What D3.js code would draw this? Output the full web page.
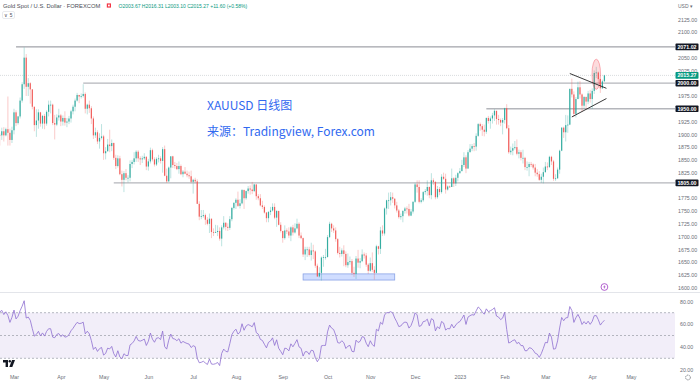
<!DOCTYPE html>
<html><head><meta charset="utf-8">
<script src="https://cdn.jsdelivr.net/npm/d3@7"></script>
<style>
body{margin:0;background:#fff;}
svg{display:block;font-family:"Liberation Sans",Arial,sans-serif;}
</style>
</head><body><svg id="c" width="700" height="382"></svg>
<script>
// ---------- DATA (daily XAUUSD) ----------
// closes before the visible window (RSI warm-up only), Jan 3 – Feb 17 2022
const warmupCloses = [1801,1814,1810,1789,1797,1802,1821,1826,1821,1817,1819,1813,1843,1839,1835,1843,1849,1819,1797,1791,1797,
  1801,1807,1805,1808,1821,1826,1833,1827,1859,1872,1854,1870,1899];
const firstDate = "2022-02-18";
const closedDays = ["2023-04-07"];
const highs = [
 1902,1913,1914,1913,1974,1911,1915,
 1950,1947,1936,1972,2002,2070,2057,2010,2002,1988,1954,1949,1949,1944,1938,1940,1947,1966,1966,1960,1938,1939,1950,
 1940,1937,1945,1932,1936,1948,1958,1970,1981,1977,1980,1998,1982,1960,1966,1955,1935,1913,1908,1902,1920,
 1899,1875,1891,1909,1890,1884,1860,1859,1858,1829,1828,1832,1820,1849,1850,1865,1869,1869,1857,1858,1863,1857,
 1852,1874,1872,1855,1855,1860,1857,1875,1878,1833,1837,1857,1858,1846,1844,1847,1841,1830,1836,1829,1827,1829,
 1813,1815,1812,1769,1752,1752,1745,1738,1745,1735,1716,1723,1722,1718,1722,1740,1728,1726,1740,1758,1767,
 1775,1788,1773,1793,1792,1790,1799,1800,1807,1803,1802,1783,1783,1770,1761,1748,1750,1758,1765,1765,1752,1751,1728,
 1711,1722,1716,1718,1720,1723,1726,1735,1728,1708,1698,1680,1680,1680,1688,1684,1673,1647,1640,1661,1664,1676,
 1703,1729,1727,1722,1718,1697,1680,1677,1683,1671,1667,1661,1656,1641,1662,1674,1658,1675,1669,1668,1648,
 1659,1669,1642,1684,1682,1719,1722,1757,1772,1786,1787,1786,1775,1768,1754,1745,1752,1758,1759,1764,1754,1769,
 1805,1810,1810,1775,1789,1793,1810,1798,1824,1814,1808,1799,1797,1822,1825,1823,1800,1800,1833,1816,1821,1826,
 1834,1850,1865,1859,1869,1881,1881,1883,1902,1922,1923,1920,1919,1933,1936,1935,1942,1949,1944,1938,1931,1932,
 1952,1959,1918,1876,1882,1887,1890,1870,1869,1870,1856,1847,1846,1846,1843,1842,1832,1828,1823,1835,
 1846,1845,1858,1858,1850,1822,1835,1870,1914,1915,1938,1937,1989,2009,1984,1973,2003,2004,1980,1975,1974,1985,1987,
 1990,2025,2032,2023,2009,2007,2016.31];
const lows = [
 1878,1889,1886,1896,1878,1878,1883,
 1900,1916,1919,1931,1962,1989,1975,1975,1960,1949,1906,1895,1911,1915,1911,1910,1917,1935,1941,1918,1890,1916,1927,
 1916,1917,1917,1914,1920,1923,1939,1945,1964,1961,1970,1972,1941,1939,1942,1920,1891,1893,1881,1872,1890,
 1850,1851,1866,1865,1867,1850,1832,1835,1820,1798,1787,1810,1806,1808,1834,1841,1846,1846,1840,1844,1850,1830,
 1829,1843,1847,1837,1838,1845,1843,1825,1818,1805,1807,1814,1834,1833,1830,1823,1820,1816,1822,1816,1813,1804,
 1784,1804,1764,1732,1734,1737,1723,1722,1707,1697,1701,1707,1701,1692,1681,1714,1712,1711,1713,1730,1753,
 1754,1758,1755,1763,1754,1772,1784,1782,1783,1787,1772,1771,1759,1754,1745,1728,1728,1742,1749,1734,1719,1722,1708,
 1688,1694,1705,1697,1691,1702,1706,1714,1697,1695,1660,1654,1660,1661,1653,1656,1639,1621,1620,1614,1641,1655,
 1659,1697,1709,1707,1690,1665,1659,1661,1642,1640,1639,1645,1625,1621,1617,1639,1638,1650,1657,1641,1627,
 1631,1631,1616,1628,1665,1666,1701,1702,1743,1754,1761,1766,1755,1747,1735,1733,1728,1745,1745,1739,1740,1745,
 1766,1786,1765,1765,1768,1782,1780,1775,1773,1801,1773,1774,1781,1784,1811,1784,1790,1795,1797,1797,1799,1808,
 1823,1828,1836,1824,1833,1866,1867,1867,1868,1895,1907,1897,1896,1901,1921,1911,1921,1926,1919,1919,1916,1900,
 1921,1910,1862,1860,1859,1870,1859,1853,1849,1843,1830,1829,1818,1836,1831,1818,1817,1809,1805,1804,
 1825,1830,1834,1840,1809,1809,1813,1823,1867,1893,1886,1903,1918,1972,1934,1933,1969,1970,1944,1950,1950,1959,1962,
 1950,1979,2010,2000,1981,1989,2003.10];
const closes = [
 1898,1906,1898,1910,1903,1889,1908,
 1943,1922,1935,1966,1998,2050,1993,2000,1988,1954,1918,1927,1943,1921,1936,1921,1944,1958,1958,1922,1919,1933,1937,
 1925,1932,1923,1925,1931,1945,1954,1966,1977,1974,1975,1979,1950,1958,1951,1931,1898,1904,1886,1893,1896,
 1863,1867,1880,1877,1883,1854,1838,1853,1822,1811,1824,1815,1815,1842,1846,1853,1866,1853,1851,1853,1856,1837,
 1847,1869,1851,1841,1852,1853,1848,1871,1819,1808,1835,1857,1840,1838,1832,1838,1822,1827,1823,1820,1818,1807,
 1811,1808,1764,1739,1740,1742,1733,1725,1735,1709,1708,1709,1711,1696,1718,1727,1719,1717,1734,1756,1766,
 1772,1760,1765,1791,1775,1789,1794,1792,1789,1802,1779,1775,1761,1758,1747,1736,1748,1751,1758,1737,1750,1723,1711,
 1697,1712,1710,1702,1718,1708,1716,1725,1702,1697,1665,1675,1675,1664,1673,1671,1643,1622,1629,1659,1660,1660,
 1699,1725,1716,1712,1695,1668,1666,1673,1666,1644,1650,1652,1629,1627,1657,1649,1652,1665,1663,1645,1633,
 1648,1635,1629,1681,1676,1712,1706,1755,1771,1771,1777,1774,1761,1751,1738,1740,1750,1755,1754,1741,1749,1768,
 1802,1797,1768,1771,1787,1789,1797,1781,1810,1807,1777,1793,1787,1817,1813,1792,1798,1797,1814,1804,1815,1824,
 1828,1840,1855,1833,1865,1872,1877,1876,1897,1920,1916,1909,1905,1932,1926,1931,1937,1946,1930,1928,1923,1928,
 1951,1912,1865,1868,1873,1875,1862,1865,1854,1854,1836,1836,1842,1841,1835,1825,1822,1811,1817,1826,
 1837,1836,1856,1847,1813,1814,1831,1868,1913,1904,1918,1919,1989,1978,1940,1969,1992,1978,1956,1973,1964,1980,1969,
 1985,2020,2021,2008,1990,2003.67,2015.27];

// horizontal levels drawn on the chart
const levelPrices = [2071.02, 2000.00, 1950.00, 1805.00];
const levelStarts = ["2022-03-02", "2022-04-18", "2023-01-19", "2022-05-09"];
// triangle trend lines [startDate, startPrice, endDate, endPrice]
const trendUpper = ["2023-03-17", 2019, "2023-04-12", 1990];
const trendLower = ["2023-03-20", 1934, "2023-04-12", 1970];
// double-bottom support box
const boxDates = ["2022-09-15", "2022-11-17"];
const boxPrices = [1615, 1627];
// highlighted spike
const ellipseDate = "2023-04-05";
const ellipsePrices = [1988, 2047];

const priceTicks = [1600,1625,1650,1675,1700,1725,1750,1775,1825,1850,1875,1900,1925,1975,2025,2050,2100,2125];
const rsiTicks = [20,40,60,80];
const rsiBands = [70,50,30];
const monthNames = ["Jan","Feb","Mar","Apr","May","Jun","Jul","Aug","Sep","Oct","Nov","Dec"];
const headerTitle = "Gold Spot / U.S. Dollar · FOREXCOM";
const headerOHLC = "O2003.67 H2016.31 L2003.10 C2015.27 +11.60 (+0.58%)";
const noteLines = ["XAUUSD 日线图", "来源：Tradingview, Forex.com"];

// ---------- trading-day calendar ----------
const fmt = d3.utcFormat("%Y-%m-%d");
const dates = [];
{
  let d = new Date(firstDate + "T00:00:00Z");
  while (dates.length < closes.length + 20) {
    const wd = d.getUTCDay();
    if (wd !== 0 && wd !== 6 && !closedDays.includes(fmt(d))) dates.push(new Date(d));
    d = new Date(d.getTime() + 864e5);
  }
}
const idxOf = s => dates.findIndex(d => fmt(d) === s);

const candles = closes.map((c, i) => {
  const o = i === 0 ? warmupCloses[warmupCloses.length - 1] : closes[i - 1];
  return {i, o, c, h: Math.max(highs[i], o, c), l: Math.min(lows[i], o, c)};
});

// RSI(14), Wilder
const allC = warmupCloses.concat(closes);
const rsiAll = [];
{
  let ag = 0, al = 0;
  for (let k = 1; k < allC.length; k++) {
    const ch = allC[k] - allC[k - 1];
    const g = Math.max(ch, 0), l = Math.max(-ch, 0);
    if (k <= 14) { ag += g / 14; al += l / 14; }
    else { ag = (ag * 13 + g) / 14; al = (al * 13 + l) / 14; }
    rsiAll[k] = k >= 14 ? 100 - 100 / (1 + ag / (al || 1e-9)) : null;
  }
}
const rsi = closes.map((c, i) => ({i, v: rsiAll[i + warmupCloses.length]}));

// ---------- layout ----------
const svg = d3.select("#c");
const plotR = 675, paneTop = 0, paneBot = 292;
const x = d3.scaleLinear().domain([idxOf("2022-03-01"), idxOf("2023-04-03")]).range([14, 592.2]);
const y = d3.scaleLinear().domain([1600, 2125]).range([287.7, 19.3]);
const yr = d3.scaleLinear().domain([20, 80]).range([369.7, 301.3]);
const upC = "#26a69a", dnC = "#ef5350";

svg.append("defs").append("clipPath").attr("id", "pc")
  .append("rect").attr("x", 0).attr("y", paneTop).attr("width", plotR).attr("height", paneBot - paneTop);
svg.append("defs").append("clipPath").attr("id", "rc")
  .append("rect").attr("x", 0).attr("y", paneBot).attr("width", plotR).attr("height", 382 - paneBot);

// pane separator
svg.append("line").attr("x1", 0).attr("x2", 700).attr("y1", paneBot + 0.5).attr("y2", paneBot + 0.5)
  .attr("stroke", "#e3e5ea").attr("stroke-width", 1);

const P = svg.append("g").attr("clip-path", "url(#pc)");

// last price line
P.append("line").attr("x1", 0).attr("x2", plotR)
  .attr("y1", y(closes[closes.length - 1])).attr("y2", y(closes[closes.length - 1]))
  .attr("stroke", "#cfd3d6").attr("stroke-width", 0.8).attr("stroke-dasharray", "1,1");

// horizontal levels
levelPrices.forEach((p, k) => {
  P.append("line").attr("x1", x(idxOf(levelStarts[k]))).attr("x2", plotR)
    .attr("y1", y(p)).attr("y2", y(p))
    .attr("stroke", k === 0 ? "#8a8d94" : "#b4b6bb").attr("stroke-width", k === 0 ? 1 : 1.3);
});

// support box
P.append("rect")
  .attr("x", x(idxOf(boxDates[0]))).attr("width", x(idxOf(boxDates[1])) - x(idxOf(boxDates[0])))
  .attr("y", y(boxPrices[1])).attr("height", y(boxPrices[0]) - y(boxPrices[1]))
  .attr("fill", "rgba(41,98,255,0.22)").attr("stroke", "#8aa3e6").attr("stroke-width", 0.8);

// candles
const cg = P.append("g");
cg.selectAll("line.w").data(candles).join("line").attr("class", "w")
  .attr("x1", d => x(d.i) ).attr("x2", d => x(d.i))
  .attr("y1", d => y(d.h)).attr("y2", d => y(d.l))
  .attr("stroke", d => d.c >= d.o ? upC : dnC).attr("stroke-width", 0.9).attr("stroke-opacity", 0.35);
cg.selectAll("rect.b").data(candles).join("rect").attr("class", "b")
  .attr("x", d => x(d.i) - 0.6).attr("width", 1.2)
  .attr("y", d => y(Math.max(d.o, d.c)))
  .attr("height", d => Math.max(0.8, Math.abs(y(d.o) - y(d.c))))
  .attr("fill", d => d.c >= d.o ? upC : dnC).attr("fill-opacity", 0.9);

// ellipse highlight
{
  const cx = x(idxOf(ellipseDate));
  const cy = (y(ellipsePrices[0]) + y(ellipsePrices[1])) / 2;
  P.append("ellipse").attr("cx", cx).attr("cy", cy).attr("rx", 4.3)
    .attr("ry", (y(ellipsePrices[0]) - y(ellipsePrices[1])) / 2)
    .attr("fill", "rgba(242,54,69,0.18)").attr("stroke", "rgba(242,54,69,0.45)").attr("stroke-width", 0.8);
}

// triangle
[trendUpper, trendLower].forEach(t => {
  P.append("line").attr("x1", x(idxOf(t[0]))).attr("y1", y(t[1]))
    .attr("x2", x(idxOf(t[2]) + 1)).attr("y2", y(t[3]))
    .attr("stroke", "#222").attr("stroke-width", 0.9);
});

// note text
noteLines.forEach((t, k) => {
  svg.append("text").attr("x", 207).attr("y", 110 + k * 26).text(t)
    .attr("font-family", "'Noto Sans CJK SC','Noto Sans',sans-serif").attr("font-size", 12)
    .attr("fill", "#3169f0");
});

// purple marker
{
  const g = svg.append("g").attr("transform", `translate(${x(closes.length - 1)},${paneBot - 5})`);
  g.append("circle").attr("r", 3.4).attr("fill", "#fff").attr("stroke", "#a13dc4").attr("stroke-width", 0.8);
  g.append("path").attr("d", "M0.4,-2.2 L-1.2,0.3 L0,0.3 L-0.4,2.2 L1.2,-0.4 L0,-0.4 Z").attr("fill", "#a13dc4");
}

// ---------- price axis ----------
const ax = svg.append("g").attr("transform", `translate(${plotR + 1},0)`)
  .call(d3.axisRight(y).tickValues(priceTicks).tickFormat(d3.format(".2f")).tickSize(0).tickPadding(2));
ax.select(".domain").remove();
ax.selectAll("text").attr("font-size", 5.3).attr("fill", "#6b6e76").attr("font-family", "'Liberation Sans',Arial,sans-serif");

function tag(p, bg, label) {
  const g = svg.append("g").attr("transform", `translate(${plotR + 0.5},${y(p)})`);
  g.append("rect").attr("x", 0).attr("y", -3.3).attr("width", 23).attr("height", 6.6).attr("rx", 0.8).attr("fill", bg);
  g.append("text").attr("x", 11.5).attr("y", 1.9).attr("text-anchor", "middle").text(label)
    .attr("font-size", 5.3).attr("font-weight", "bold").attr("fill", "#fff");
}
levelPrices.forEach(p => tag(p, "#131722", d3.format(".2f")(p)));
tag(closes[closes.length - 1], "#089981", d3.format(".2f")(closes[closes.length - 1]));

svg.append("text").attr("x", 678).attr("y", 7.5).text("USD ▾").attr("font-size", 5).attr("fill", "#6b6e76");

// ---------- RSI pane ----------
const R = svg.append("g").attr("clip-path", "url(#rc)");
R.append("rect").attr("x", 0).attr("width", plotR).attr("y", yr(70)).attr("height", yr(30) - yr(70))
  .attr("fill", "rgba(126,87,194,0.1)");
rsiBands.forEach(v => R.append("line").attr("x1", 0).attr("x2", plotR).attr("y1", yr(v)).attr("y2", yr(v))
  .attr("stroke", "#9a9ca6").attr("stroke-width", 0.7).attr("stroke-dasharray", "2,2"));
R.append("path").datum(rsi.filter(d => d.v != null))
  .attr("d", d3.line().x(d => x(d.i)).y(d => yr(d.v)))
  .attr("fill", "none").attr("stroke", "#8e6fd0").attr("stroke-width", 0.8);

const ar = svg.append("g").attr("transform", `translate(${plotR + 1},0)`)
  .call(d3.axisRight(yr).tickValues(rsiTicks).tickFormat(d3.format(".2f")).tickSize(0).tickPadding(4));
ar.select(".domain").remove();
ar.selectAll("text").attr("font-size", 5.3).attr("fill", "#6b6e76");

// TV logo
{
  const g = svg.append("g").attr("transform", "translate(3,360)").attr("fill", "#131722");
  g.append("path").attr("d", "M0,0 H5 V7 H2.6 V2.4 H0 Z");
  g.append("circle").attr("cx", 6.8).attr("cy", 1.2).attr("r", 1.2);
  g.append("path").attr("d", "M9,0 H12 L9.3,7 H6.3 Z");
}

// ---------- time axis ----------
const monthStarts = [];
dates.forEach((d, i) => {
  if (i > 0 && d.getUTCMonth() !== dates[i - 1].getUTCMonth() && x(i) < plotR - 5) monthStarts.push(i);
});
const axX = svg.append("g").attr("transform", "translate(0,375)")
  .call(d3.axisBottom(x).tickValues(monthStarts).tickSize(0).tickPadding(0)
    .tickFormat(i => dates[i].getUTCMonth() === 0 ? String(dates[i].getUTCFullYear()) : monthNames[dates[i].getUTCMonth()]));
axX.select(".domain").remove();
axX.selectAll("text").attr("font-size", 5.3).attr("fill", "#6b6e76");

// gear icon
svg.append("circle").attr("cx", 688).attr("cy", 377.5).attr("r", 2.4).attr("fill", "none")
  .attr("stroke", "#6b6e76").attr("stroke-width", 0.8).attr("stroke-dasharray", "1.2,0.6");

// ---------- header ----------
svg.append("text").attr("x", 3).attr("y", 8).text(headerTitle).attr("font-size", 5.8).attr("fill", "#4a4d55");
svg.append("rect").attr("x", 106.8).attr("y", 3.4).attr("width", 4.2).attr("height", 4.2).attr("fill", "#f23645");
svg.append("rect").attr("x", 108).attr("y", 4.6).attr("width", 1.8).attr("height", 1.8).attr("fill", "#fff");
svg.append("text").attr("x", 118.5).attr("y", 8).text(headerOHLC).attr("font-size", 5).attr("fill", "#089981");
svg.append("rect").attr("x", 2.5).attr("y", 11.5).attr("width", 12).attr("height", 7).attr("rx", 1.5)
  .attr("fill", "#fff").attr("stroke", "#dadce0").attr("stroke-width", 0.6);
svg.append("text").attr("x", 4.3).attr("y", 16.8).text("∨ 5").attr("font-size", 4.8).attr("fill", "#4a4d55");
</script></body></html>
